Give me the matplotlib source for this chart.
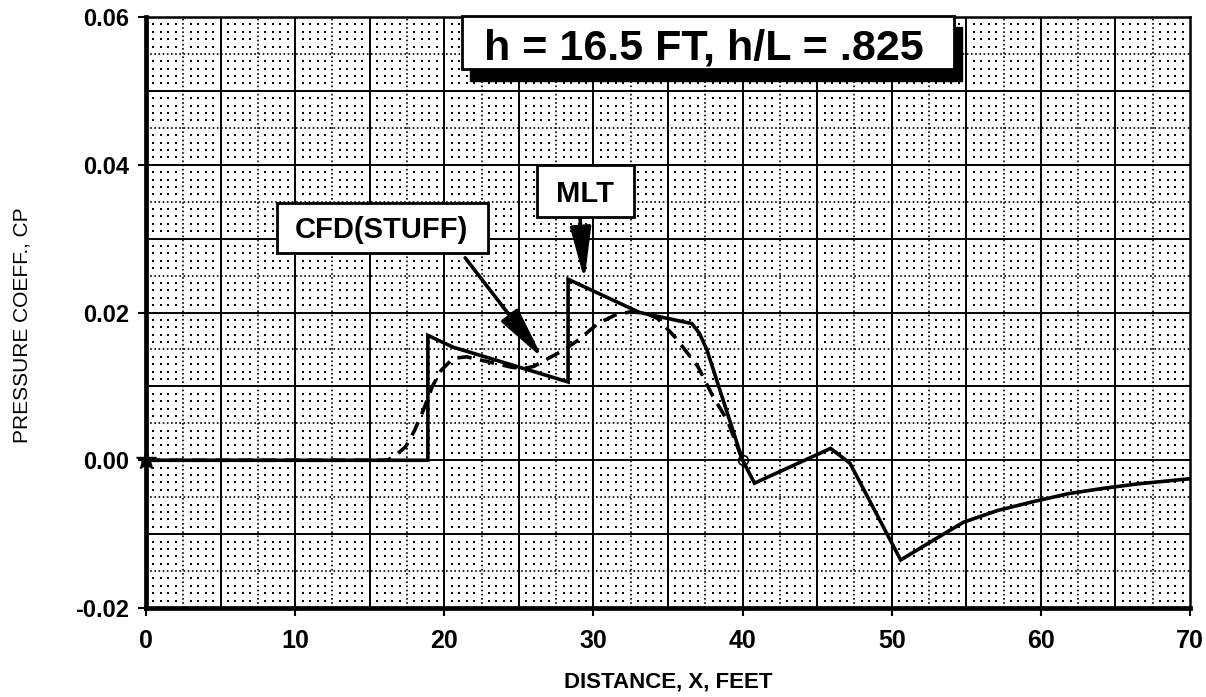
import matplotlib
matplotlib.use("Agg")
import matplotlib.pyplot as plt
from matplotlib.patches import Rectangle
import numpy as np

# MLT (solid line)
mlt_x = [0, 18.9, 18.9, 20.6, 28.3, 28.3, 33.1, 36.6, 37.1, 37.6, 40.0, 40.8,
         45.9, 47.2, 50.6, 52.4, 54.8, 57.1, 59.5, 61.9, 64.2, 66.5, 70.0]
mlt_cp = [0.0, 0.0, 0.0169, 0.0153, 0.0106, 0.0245, 0.0200, 0.0185, 0.0172,
          0.0150, 0.0, -0.0031, 0.0016, -0.0004, -0.0135, -0.0113, -0.0084,
          -0.0068, -0.0056, -0.0045, -0.0038, -0.0032, -0.0025]

# CFD(STUFF) (dashed line)
cfd_x = [0, 16.2, 16.8, 17.4, 18.0, 18.6, 19.2, 19.8, 20.6, 21.5, 23.0, 24.5,
         25.3, 26.0, 26.8, 28.0, 29.0, 30.3, 31.5, 32.5, 33.5, 34.3, 35.5,
         37.0, 38.0, 39.0, 40.0]
cfd_cp = [0.0, 0.0, 0.0008, 0.0018, 0.0040, 0.0068, 0.0100, 0.0122, 0.0138,
          0.0140, 0.0133, 0.0126, 0.0124, 0.0127, 0.0136, 0.0149, 0.0163,
          0.0185, 0.0197, 0.0201, 0.0199, 0.0192, 0.0166, 0.0127, 0.0087,
          0.0053, 0.0]

x_ticks = [0, 10, 20, 30, 40, 50, 60, 70]
y_ticks = [-0.02, 0.0, 0.02, 0.04, 0.06]

title_text = "h = 16.5 FT, h/L = .825"
FONT = "Liberation Sans"

fig = plt.figure(figsize=(12.06, 6.97), dpi=100)
ax = fig.add_axes([146 / 1206, 1 - 608 / 697, (1190 - 146) / 1206, (608 - 17) / 697])
ax.set_xlim(0, 70)
ax.set_ylim(-0.02, 0.06)

# graph-paper background: dots, dotted half lines, solid major lines
gx, gy = np.meshgrid(np.arange(0, 70.01, 0.5), np.arange(-0.02, 0.06001, 0.001))
on_x = np.isclose(gx / 2.5, np.round(gx / 2.5))
on_y = np.isclose(gy / 0.005, np.round(gy / 0.005))
keep = ~on_x & ~on_y
ax.scatter(gx[keep], gy[keep], s=3.2, c="black", marker="s", linewidths=0, zorder=1)

for xv in np.arange(2.5, 70, 5):
    ax.axvline(xv, color="black", lw=1.2, ls=(0, (1, 1.5)), zorder=1)
for yv in np.arange(-0.015, 0.06, 0.01):
    ax.axhline(yv, color="black", lw=1.2, ls=(0, (1, 1.5)), zorder=1)
for xv in np.arange(5, 70, 5):
    ax.axvline(xv, color="black", lw=1.4, zorder=1)
for yv in np.arange(-0.01, 0.06, 0.01):
    ax.axhline(yv, color="black", lw=1.4, zorder=1)

# curves
ax.plot(cfd_x, cfd_cp, color="black", lw=2.6, dashes=(4, 2.4), zorder=3)
ax.plot(mlt_x, mlt_cp, color="black", lw=2.6, solid_joinstyle="miter", zorder=4)
ax.plot([0], [0], marker="*", ms=15, color="black", clip_on=False, zorder=5)
ax.plot([40], [0], marker="o", ms=7, mfc="none", mec="black", mew=1.2, zorder=5)

# frame and ticks
for side in ["left", "bottom"]:
    ax.spines[side].set_linewidth(3.4)
for side in ["top", "right"]:
    ax.spines[side].set_linewidth(1.8)
ax.set_xticks(x_ticks)
ax.set_xticklabels([str(v) for v in x_ticks], fontfamily=FONT,
                   fontweight="bold", fontsize=18)
ax.set_xticks(np.arange(5, 70, 10), minor=True)
ax.set_yticks(y_ticks)
ax.set_yticklabels([f"{v:.2f}" for v in y_ticks], fontfamily=FONT,
                   fontweight="bold", fontsize=17)
ax.set_yticks(np.arange(-0.01, 0.06, 0.02), minor=True)
ax.tick_params(axis="both", which="major", direction="out", length=6, width=1.5)
ax.tick_params(axis="both", which="minor", direction="in", length=5, width=1.2)
ax.tick_params(axis="x", pad=9)
ax.tick_params(axis="y", pad=6)

fig.text(668 / 1206, 1 - 682 / 697, "DISTANCE, X, FEET", fontfamily=FONT,
         fontweight="bold", fontsize=16, ha="center", va="center")
fig.text(22 / 1206, 1 - 325 / 697, "PRESSURE COEFF., CP", fontfamily=FONT,
         fontsize=15, rotation=90, ha="center", va="center")

# labelled boxes: (text, text centre, box x-range, box cp-range, size)
boxes = [
    (title_text, (37.4, 0.0558), (21.2, 54.2), (0.0529, 0.0602), 31),
    ("CFD(STUFF)", (15.8, 0.0311), (8.8, 22.9), (0.0280, 0.0348), 21),
    ("MLT", (29.45, 0.0361), (26.2, 32.7), (0.0329, 0.0399), 21),
]
for i, (label, (tx, ty), (x0, x1), (y0, y1), size) in enumerate(boxes):
    if i == 0:
        ax.add_patch(Rectangle((x0 + 0.5, y0 - 0.0016), x1 - x0, y1 - y0,
                               fc="black", ec="black", zorder=7, clip_on=False))
    ax.add_patch(Rectangle((x0, y0), x1 - x0, y1 - y0, fc="white", ec="black",
                           lw=2, zorder=8, clip_on=False))
    ax.text(tx, ty, label, fontfamily=FONT, fontweight="bold", fontsize=size,
            ha="center", va="center", zorder=9)

arrow = dict(arrowstyle="-|>,head_length=1.6,head_width=0.32", lw=2.6,
             color="black", shrinkA=0, shrinkB=0, mutation_scale=20)
ax.annotate("", xy=(26.6, 0.0138), xytext=(21.4, 0.0274), arrowprops=arrow, zorder=7)
ax.annotate("", xy=(29.4, 0.0244), xytext=(29.1, 0.0328), arrowprops=arrow, zorder=7)

fig.savefig("out.png", dpi=100, facecolor="white")
